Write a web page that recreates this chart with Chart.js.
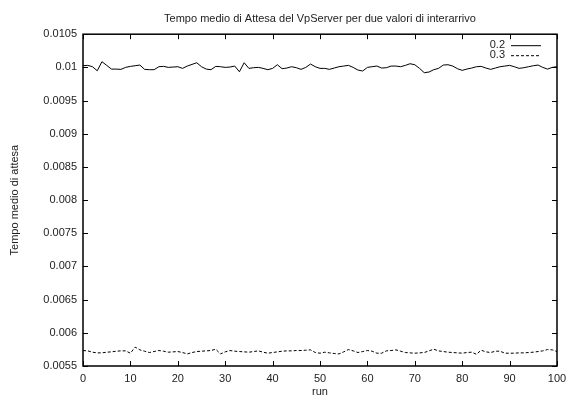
<!DOCTYPE html>
<html>
<head>
<meta charset="utf-8">
<script src="https://cdn.jsdelivr.net/npm/chart.js@4.4.1/dist/chart.umd.min.js"></script>
<style>
  html, body { margin: 0; padding: 0; background: #fff; }
  #wrap { width: 574px; height: 401px; }
</style>
</head>
<body>
<div id="wrap"><canvas id="chart"></canvas></div>
<script>
// Dati (gnuplot)
const runs = Array.from({length: 101}, (_, i) => i);

const labels = ['0.2', '0.3'];

const attesa02 = [
    0.010025, 0.010030, 0.010010, 0.009949, 0.010086, 0.010030, 0.009974, 0.009974, 0.009970, 0.010000,
    0.010015, 0.010025, 0.010035, 0.009970, 0.009965, 0.009965, 0.010010, 0.010015, 0.010000, 0.010005,
    0.010010, 0.009985, 0.010020, 0.010045, 0.010070, 0.010010, 0.009974, 0.009965, 0.010015, 0.010010,
    0.010000, 0.010005, 0.010020, 0.009934, 0.010070, 0.009985, 0.009995, 0.010000, 0.009985, 0.009965,
    0.009985, 0.010040, 0.009980, 0.009990, 0.010010, 0.009995, 0.009970, 0.010000, 0.010050, 0.010010,
    0.009985, 0.009985, 0.009970, 0.009990, 0.010010, 0.010020, 0.010030, 0.010000, 0.009960, 0.009945,
    0.010000, 0.010010, 0.010020, 0.009990, 0.009995, 0.010020, 0.010020, 0.010010, 0.010030, 0.010055,
    0.010040, 0.009985, 0.009920, 0.009930, 0.009965, 0.009985, 0.010035, 0.010040, 0.010020, 0.009980,
    0.009955, 0.009975, 0.009990, 0.010010, 0.010015, 0.009990, 0.009970, 0.009990, 0.010010, 0.010020,
    0.010030, 0.010010, 0.009985, 0.009995, 0.010010, 0.010025, 0.010035, 0.010000, 0.009974, 0.010000,
    0.010010
];

const attesa03 = [
    0.005733, 0.005728, 0.005708, 0.005698, 0.005698, 0.005708, 0.005713, 0.005723, 0.005728, 0.005728,
    0.005693, 0.005784, 0.005743, 0.005723, 0.005703, 0.005718, 0.005733, 0.005723, 0.005708, 0.005713,
    0.005718, 0.005703, 0.005682, 0.005703, 0.005718, 0.005723, 0.005728, 0.005733, 0.005753, 0.005682,
    0.005713, 0.005733, 0.005723, 0.005718, 0.005713, 0.005708, 0.005718, 0.005728, 0.005708, 0.005693,
    0.005703, 0.005713, 0.005723, 0.005728, 0.005728, 0.005733, 0.005733, 0.005738, 0.005743, 0.005703,
    0.005693, 0.005708, 0.005698, 0.005688, 0.005682, 0.005713, 0.005748, 0.005728, 0.005703, 0.005718,
    0.005733, 0.005723, 0.005693, 0.005693, 0.005728, 0.005733, 0.005743, 0.005723, 0.005703, 0.005698,
    0.005693, 0.005698, 0.005703, 0.005728, 0.005753, 0.005728, 0.005718, 0.005708, 0.005703, 0.005698,
    0.005693, 0.005703, 0.005708, 0.005677, 0.005738, 0.005713, 0.005703, 0.005723, 0.005723, 0.005693,
    0.005693, 0.005693, 0.005698, 0.005698, 0.005703, 0.005708, 0.005718, 0.005728, 0.005748, 0.005743,
    0.005718
];

const FONT = "'Liberation Sans', Arial, sans-serif";

// Cornice e tacche interne su tutti e quattro i lati, stile gnuplot
const framePlugin = {
    id: 'frame',
    afterDatasetsDraw(chart) {
        const ctx = chart.ctx;
        const a = chart.chartArea;
        const x = chart.scales.x;
        const y = chart.scales.y;
        const tl = 5;

        ctx.save();
        ctx.strokeStyle = '#000';
        ctx.lineWidth = 1;
        ctx.beginPath();
        x.ticks.forEach(t => {
            const px = Math.round(x.getPixelForValue(t.value)) + 0.5;
            ctx.moveTo(px, a.bottom); ctx.lineTo(px, a.bottom - tl);
            ctx.moveTo(px, a.top); ctx.lineTo(px, a.top + tl);
        });
        y.ticks.forEach(t => {
            const py = Math.round(y.getPixelForValue(t.value)) + 0.5;
            ctx.moveTo(a.left, py); ctx.lineTo(a.left + tl, py);
            ctx.moveTo(a.right, py); ctx.lineTo(a.right - tl, py);
        });
        ctx.stroke();

        ctx.lineWidth = 1.5;
        ctx.strokeRect(a.left, a.top, a.right - a.left, a.bottom - a.top);

        // legenda: testo a destra, campione di linea
        ctx.font = '11px ' + FONT;
        ctx.fillStyle = '#222';
        ctx.textAlign = 'right';
        ctx.textBaseline = 'middle';
        chart.data.datasets.forEach((ds, i) => {
            const ly = a.top + 11 + i * 10;
            ctx.fillText(ds.label, a.right - 52, ly);
            ctx.beginPath();
            ctx.lineWidth = 1;
            ctx.setLineDash(ds.borderDash || []);
            ctx.moveTo(a.right - 46, ly + 0.5);
            ctx.lineTo(a.right - 16, ly + 0.5);
            ctx.stroke();
        });
        ctx.restore();
    }
};

const ctx = document.getElementById('chart');

new Chart(ctx, {
    type: 'line',
    data: {
        datasets: [{
            label: labels[0],
            data: runs.map((r, i) => ({x: r, y: attesa02[i]})),
            borderColor: '#000',
            borderWidth: 1,
            pointRadius: 0,
            tension: 0
        }, {
            label: labels[1],
            data: runs.map((r, i) => ({x: r, y: attesa03[i]})),
            borderColor: '#000',
            borderWidth: 1,
            borderDash: [3, 2],
            pointRadius: 0,
            tension: 0
        }]
    },
    options: {
        responsive: true,
        maintainAspectRatio: false,
        animation: false,
        layout: {
            padding: { left: 0, right: 17, top: 0, bottom: 0 }
        },
        plugins: {
            legend: { display: false },
            tooltip: { enabled: false },
            title: {
                display: true,
                fullSize: false,
                text: 'Tempo medio di Attesa del VpServer per due valori di interarrivo',
                color: '#222',
                font: { family: FONT, size: 11, weight: 'normal' },
                padding: { top: 12, bottom: 9 }
            }
        },
        scales: {
            x: {
                type: 'linear',
                min: 0,
                max: 100,
                grid: { display: false, drawTicks: false },
                border: { display: false },
                ticks: {
                    stepSize: 10,
                    padding: 6,
                    color: '#222',
                    font: { family: FONT, size: 11 }
                },
                title: {
                    display: true,
                    text: 'run',
                    color: '#222',
                    font: { family: FONT, size: 11 },
                    padding: { top: 0, bottom: 2 }
                },
                afterFit(scale) { scale.height = 35; }
            },
            y: {
                min: 0.0055,
                max: 0.0105,
                grid: { display: false, drawTicks: false },
                border: { display: false },
                ticks: {
                    stepSize: 0.0005,
                    padding: 6,
                    color: '#222',
                    font: { family: FONT, size: 11 },
                    callback: v => String(Number(v.toFixed(4)))
                },
                title: {
                    display: true,
                    text: 'Tempo medio di attesa',
                    color: '#222',
                    font: { family: FONT, size: 11 },
                    padding: { top: 8, bottom: 0 }
                },
                afterFit(scale) { scale.width = 83; }
            }
        }
    },
    plugins: [framePlugin]
});
</script>
</body>
</html>
